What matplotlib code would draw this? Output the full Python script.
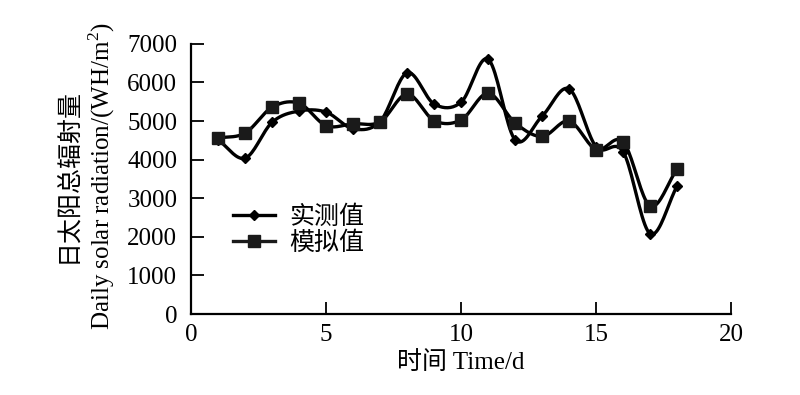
import numpy as np
import matplotlib
matplotlib.use("Agg")
from matplotlib import pyplot as plt

plt.rcParams['font.family'] = ['Liberation Serif', 'Noto Sans CJK SC']
plt.rcParams['mathtext.fontset'] = 'custom'
plt.rcParams['mathtext.rm'] = 'Liberation Serif'

days = [1, 2, 3, 4, 5, 6, 7, 8, 9, 10, 11, 12, 13, 14, 15, 16, 17, 18]
measured = [4510, 4040, 4970, 5260, 5230, 4800, 4990, 6250, 5440, 5490, 6600, 4510, 5130, 5830, 4330, 4200, 2080, 3320]
simulated = [4560, 4690, 5360, 5460, 4880, 4930, 4980, 5700, 5010, 5030, 5720, 4950, 4600, 5000, 4260, 4460, 2800, 3760]
labels = ['实测值', '模拟值']


def smooth(x, y, n=20):
    # catmull-rom through the points, like a smoothed excel line
    x = np.asarray(x, float)
    y = np.asarray(y, float)
    px = np.concatenate([[2 * x[0] - x[1]], x, [2 * x[-1] - x[-2]]])
    py = np.concatenate([[2 * y[0] - y[1]], y, [2 * y[-1] - y[-2]]])
    t = np.linspace(0, 1, n, endpoint=False)
    xs, ys = [], []
    for i in range(1, len(px) - 2):
        for p, out in ((px, xs), (py, ys)):
            p0, p1, p2, p3 = p[i - 1], p[i], p[i + 1], p[i + 2]
            out.extend(0.5 * ((2 * p1) + (-p0 + p2) * t
                              + (2 * p0 - 5 * p1 + 4 * p2 - p3) * t ** 2
                              + (-p0 + 3 * p1 - 3 * p2 + p3) * t ** 3))
    xs.append(x[-1])
    ys.append(y[-1])
    return xs, ys


fig = plt.figure(figsize=(8, 3.95), dpi=100)
ax = fig.add_axes([0.239, 0.205, 0.675, 0.684])

sx, sy = smooth(days, measured)
ax.plot(sx, sy, color='black', lw=2.4, zorder=2)
ax.plot(days, measured, 'D', color='black', ms=5.5, zorder=3)
sx, sy = smooth(days, simulated)
ax.plot(sx, sy, color='black', lw=2.4, zorder=2)
ax.plot(days, simulated, 's', color='#1a1a1a', ms=8, zorder=3)

# legend handles
ax.plot([], [], '-D', color='black', lw=2.4, ms=5.5, label=labels[0])
ax.plot([], [], '-s', color='#1a1a1a', lw=2.4, ms=8, label=labels[1])
handles, labs = ax.get_legend_handles_labels()
ax.legend(handles, labs, loc='upper left', bbox_to_anchor=(0.058, 0.44),
          frameon=False, fontsize=18, handlelength=1.7, handletextpad=0.55,
          labelspacing=0.12, borderaxespad=0)

ax.set_xlim(0, 20)
ax.set_ylim(0, 7000)
ax.set_xticks([0, 5, 10, 15, 20])
ax.set_yticks(range(0, 7001, 1000))
for s in ['top', 'right']:
    ax.spines[s].set_visible(False)
for s in ['left', 'bottom']:
    ax.spines[s].set_linewidth(1.6)
ax.tick_params(direction='in', length=9, width=1.3, labelsize=18)
ax.tick_params(axis='y', pad=10)
ax.tick_params(axis='x', pad=7)

ax.set_xlabel('时间 Time/d', fontsize=18, labelpad=4)
fig.text(0.085, 0.555, '日太阳总辐射量', rotation=90, fontsize=18,
         ha='center', va='center')
fig.text(0.127, 0.555, 'Daily solar radiation/(WH/m$^2$)', rotation=90,
         fontsize=18, ha='center', va='center')

plt.savefig('out.png', dpi=100)
